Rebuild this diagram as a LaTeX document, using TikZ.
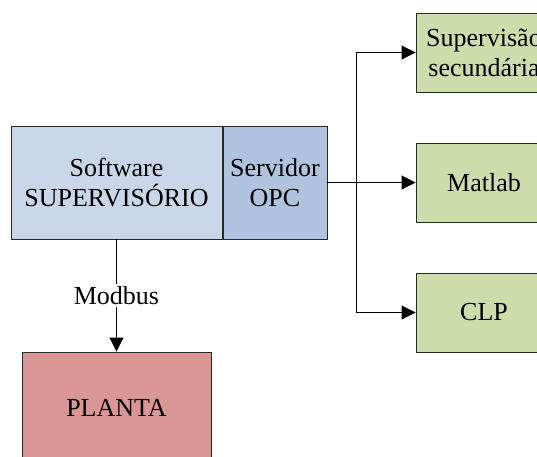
\documentclass[tikz,border=0pt]{standalone}
\usepackage{fontspec}
\setmainfont{Liberation Serif}
\newfontfamily\timesfont{Liberation Serif}
\usetikzlibrary{arrows.meta}
\definecolor{softblue}{RGB}{201,214,232}
\definecolor{opcblue}{RGB}{176,195,222}
\definecolor{boxgreen}{RGB}{205,220,170}
\definecolor{plantred}{RGB}{217,150,148}
\definecolor{edge}{RGB}{40,40,40}
\tikzset{
  box/.style={draw=edge, line width=0.9pt, rectangle, inner sep=0pt, align=center,
    font=\timesfont\fontsize{26}{30}\selectfont},
  arr/.style={line width=0.9pt, -{Triangle[length=14pt,width=14pt]}},
  lbl/.style={fill=white, inner sep=2pt, font=\timesfont\fontsize{26}{30}\selectfont}
}
\begin{document}
\begin{tikzpicture}[x=1pt,y=-1pt]
\useasboundingbox (0,0) rectangle (537,456);
\clip (0,0) rectangle (537,456);
\node[box, fill=softblue, minimum width=211pt, minimum height=113pt] (soft) at (116.5,182.5) {Software\\SUPERVISÓRIO};
\node[box, fill=opcblue, minimum width=104pt, minimum height=113pt] (opc) at (275,182.5) {Servidor\\OPC};
\node[box, fill=boxgreen, minimum width=136pt, minimum height=79pt] (sup) at (484,52.5) {Supervisão\\secundária};
\node[box, fill=boxgreen, minimum width=136pt, minimum height=79pt] (mat) at (484,182.5) {Matlab};
\node[box, fill=boxgreen, minimum width=136pt, minimum height=79pt] (clp) at (484,312.5) {CLP};
\node[box, fill=plantred, minimum width=189pt, minimum height=112pt] (planta) at (116.5,408) {PLANTA};
\coordinate (j) at (356,182.5);
\draw[line width=1.4pt] (opc.east) -- (j);
\draw[arr] (j) -- (mat.west);
\draw[arr] (j) |- (sup.west);
\draw[arr] (j) |- (clp.west);
\draw[arr] (soft.south) -- node[lbl] {Modbus} (planta.north);
\end{tikzpicture}
\end{document}
